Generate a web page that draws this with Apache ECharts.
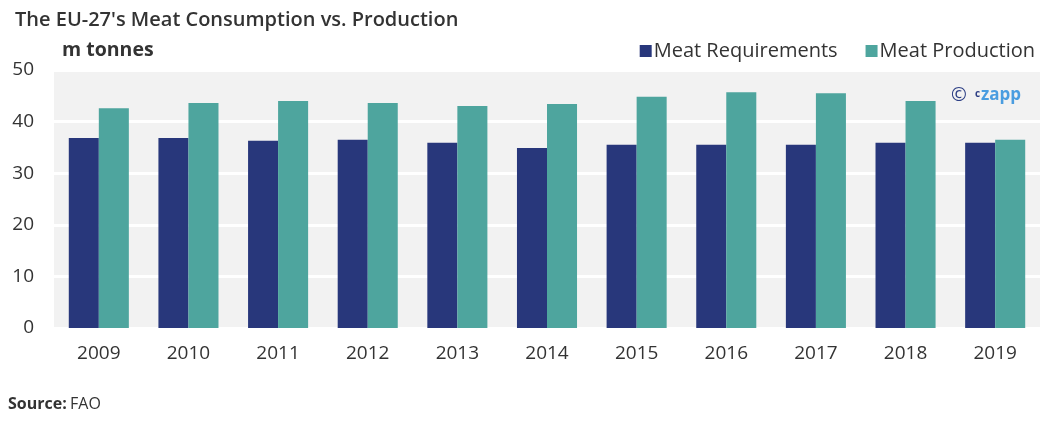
<!DOCTYPE html>
<html><head><meta charset="utf-8">
<script src="https://cdn.jsdelivr.net/npm/echarts@6/dist/echarts.min.js"></script>
<style>html,body{margin:0;padding:0;background:#fff}#c{width:1048px;height:432px}</style>
</head><body><div id="c"></div>
<script>
const categories = ['2009','2010','2011','2012','2013','2014','2015','2016','2017','2018','2019'];
const requirements = [36.8,36.8,36.3,36.5,35.9,34.9,35.5,35.5,35.5,35.9,35.9];
const production = [42.6,43.6,44.0,43.6,43.0,43.4,44.8,45.7,45.5,44.0,36.5];
const yTicks = [0,10,20,30,40,50];
const FONT = '"Open Sans", "Noto Sans", sans-serif';

const chart = echarts.init(document.getElementById('c'), null, {renderer:'canvas'});
chart.setOption({
  animation:false,
  textStyle:{fontFamily:FONT},
  title:{text:"The EU-27's Meat Consumption vs. Production", left:10, top:5,
    textStyle:{fontFamily:FONT, fontSize:20, fontWeight:600, color:'#333'}},
  legend:{right:8, top:36, itemWidth:12, itemHeight:12, itemGap:28, icon:'rect',
    textStyle:{fontFamily:FONT, fontSize:20, color:'#333', padding:[0,0,0,-3]},
    data:['Meat Requirements','Meat Production']},
  grid:{left:54, right:8, top:70, bottom:104, show:true, backgroundColor:'#f2f2f2', borderWidth:0},
  xAxis:{type:'category', data:categories,
    axisLine:{show:false}, axisTick:{show:false},
    axisLabel:{fontFamily:FONT, fontSize:19, color:'#333', margin:16}},
  yAxis:{type:'value', min:yTicks[0], max:yTicks[yTicks.length-1], interval:10,
    axisLine:{show:false}, axisTick:{show:false},
    axisLabel:{fontFamily:FONT, fontSize:19, color:'#333', margin:20},
    splitLine:{lineStyle:{color:'#ffffff', width:3}}},
  series:[
    {name:'Meat Requirements', type:'bar', data:requirements, itemStyle:{color:'#28377b'},
      barGap:'0%', barCategoryGap:'33%'},
    {name:'Meat Production', type:'bar', data:production, itemStyle:{color:'#4ea59e'},
      barGap:'0%', barCategoryGap:'33%'}
  ],
  graphic:[
    {type:'text', left:62, top:40, style:{text:'m tonnes', font:'bold 19.5px '+FONT, fill:'#333'}},
    {type:'text', left:8, top:396, style:{rich:{b:{font:'bold 16px '+FONT, fill:'#333'}, n:{font:'16px '+FONT, fill:'#333'}}, text:'{b|Source:} {n|FAO}'}},
    {type:'text', left:951, top:86, style:{text:'©', font:'19px '+FONT, fill:'#2d3f85'}},
    {type:'text', left:975, top:89, style:{text:'c', font:'bold 10px '+FONT, fill:'#2d3f85'}},
    {type:'text', left:981, top:87, style:{text:'zapp', font:'bold 17px '+FONT, fill:'#4a9de0'}}
  ]
});
</script></body></html>
